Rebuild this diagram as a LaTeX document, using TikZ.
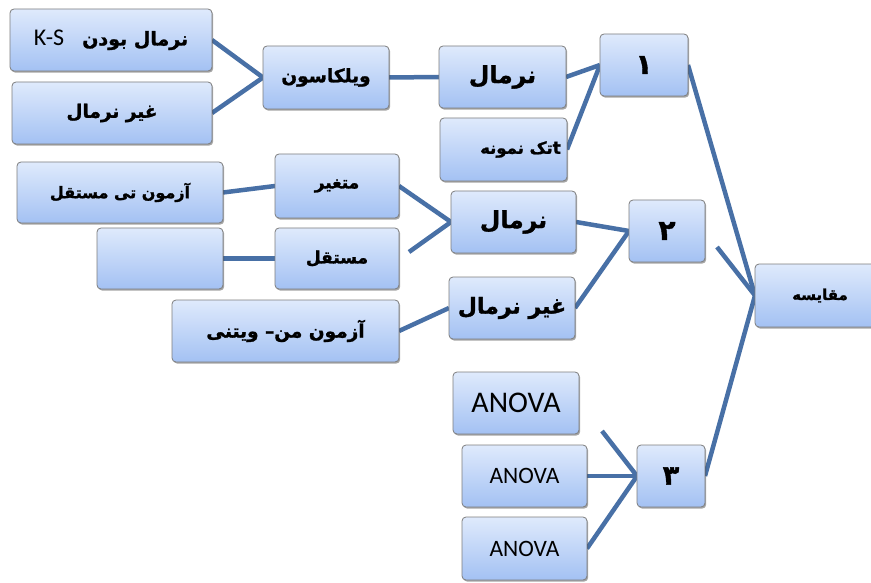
\documentclass[tikz,border=0pt]{standalone}
\usepackage{fontspec}
\setmainfont{Carlito}
\newfontfamily\arabicfont[Script=Arabic, BoldFeatures={FakeBold=1.4}]{DejaVu Sans}
\TeXXeTstate=1
\usetikzlibrary{shadows,backgrounds}
\definecolor{linec}{RGB}{72,112,166}
\definecolor{boxtop}{RGB}{223,234,252}
\definecolor{boxbot}{RGB}{163,193,243}
\definecolor{boxedge}{RGB}{125,125,125}
\newcommand{\fa}[2]{{\arabicfont\bfseries\fontsize{#1}{#1}\selectfont\beginR #2\endR}}
\newcommand{\lat}[2]{{\fontsize{#1}{#1}\selectfont #2}}
\begin{document}
\begin{tikzpicture}[x=1pt,y=-1pt,
  box/.style={draw=boxedge, line width=0.8pt, rounded corners=4pt,
    top color=boxtop, bottom color=boxbot,
    drop shadow={shadow xshift=1.2pt, shadow yshift=-1.6pt, opacity=0.35, fill=black},
    inner sep=0pt, outer sep=0pt, align=center},
  bx/.style 2 args={box, minimum width=#1, minimum height=#2},
  conn/.style={draw=linec, line width=4.5pt}]
\useasboundingbox (0,0) rectangle (871,583);

% boxes
\node[bx={202pt}{62pt}] (ks)  at (111,40)    {\lat{24pt}{K-S}\hspace{18pt}\fa{19pt}{\beginR نرمال بودن\endR}};
\node[bx={200pt}{62pt}] (gn1) at (112,113)   {\fa{18.5pt}{\beginR غیر نرمال\endR}};
\node[bx={126pt}{63pt}] (wil) at (326,77.5)  {\fa{18.5pt}{ویلکاسون}};
\node[bx={127pt}{62pt}] (n1)  at (502.5,77)  {\fa{23.5pt}{نرمال}};
\node[bx={127pt}{63pt}] (tak) at (503.5,149.5) {\hspace{34pt}\fa{16.5pt}{\beginR تک نمونه\endR}{\arabicfont\bfseries\fontsize{17pt}{17pt}\selectfont t}};
\node[bx={88pt}{62pt}]  (b1)  at (644,65)    {\fa{28pt}{۱}};
\node[bx={206pt}{61pt}] (azt) at (120,192.5) {\fa{16pt}{\beginR آزمون تی مستقل\endR}};
\node[bx={124pt}{64pt}] (mot) at (337,186)   {\fa{17pt}{متغیر}};
\node[bx={126pt}{61pt}] (emp) at (160,258.5) {};
\node[bx={124pt}{61pt}] (mos) at (337,258.5) {\fa{17pt}{مستقل}};
\node[bx={125pt}{62pt}] (n2)  at (513.5,222) {\fa{23.5pt}{نرمال}};
\node[bx={76pt}{62pt}]  (b2)  at (667,231)   {\fa{28pt}{۲}};
\node[bx={227pt}{62pt}] (mw)  at (285.5,331) {\fa{18.5pt}{\beginR آزمون من– ویتنی\endR}};
\node[bx={126pt}{62pt}] (gn2) at (512,308)   {\fa{22pt}{\beginR غیر نرمال\endR}};
\node[bx={130pt}{63pt}] (mq)  at (820,295.5) {\fa{15pt}{مقایسه}};
\node[bx={126pt}{62pt}] (an1) at (516,403)   {\lat{30pt}{ANOVA}};
\node[bx={125pt}{62pt}] (an2) at (524.5,476) {\lat{23.5pt}{ANOVA}};
\node[bx={125pt}{63pt}] (an3) at (524.5,548.5) {\lat{23.5pt}{ANOVA}};
\node[bx={68pt}{62pt}]  (b3)  at (671,476)   {\fa{27pt}{۳}};

\coordinate (c2) at (717,247);
\coordinate (cm) at (409,252);
\coordinate (ca) at (602,431);

\begin{scope}[on background layer]
\draw[conn] (ks.east) -- (wil.west);
\draw[conn] (gn1.east) -- (wil.west);
\draw[conn] (wil.east) -- (n1.west);
\draw[conn] (n1.east) -- (b1.west);
\draw[conn] (tak.east) -- (b1.west);
\draw[conn] (b1.east) -- (mq.west);
\draw[conn] (c2) -- (mq.west);
\draw[conn] (b3.east) -- (mq.west);
\draw[conn] (azt.east) -- (mot.west);
\draw[conn] (emp.east) -- (mos.west);
\draw[conn] (mot.east) -- (n2.west);
\draw[conn] (cm) -- (n2.west);
\draw[conn] (mw.east) -- (gn2.west);
\draw[conn] (n2.east) -- (b2.west);
\draw[conn] (gn2.east) -- (b2.west);
\draw[conn] (ca) -- (b3.west);
\draw[conn] (an2.east) -- (b3.west);
\draw[conn] (an3.east) -- (b3.west);
\end{scope}
\end{tikzpicture}
\end{document}
